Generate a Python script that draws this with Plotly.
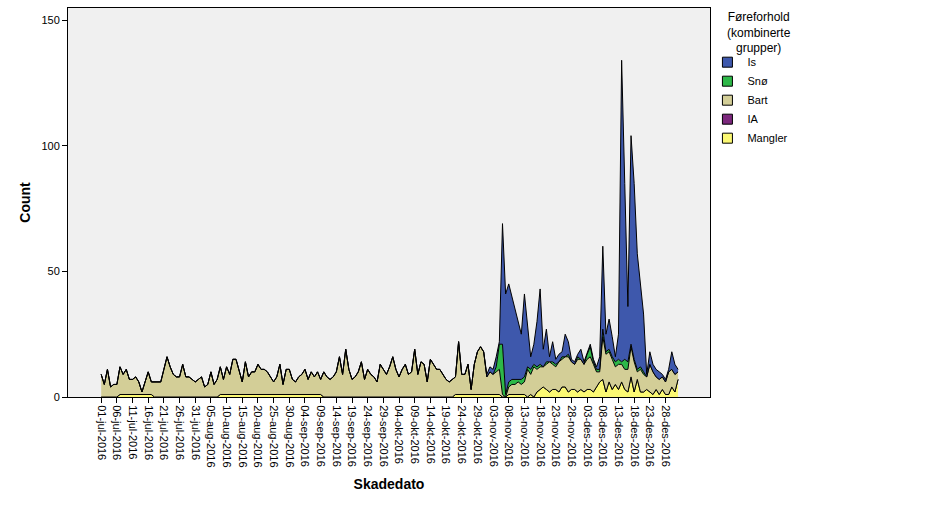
import pandas as pd
import plotly.graph_objects as go

# Daily counts 01-jul-2016 .. 01-jan-2017, per road condition (stack bottom -> top)
dates = pd.date_range("2016-07-01", "2017-01-01", freq="D")

mangler_jul = [0, 0, 0, 0, 0, 0, 1, 1, 1, 1, 1, 1, 1, 1, 1, 1, 1, 0, 0, 0, 0, 0, 0, 0, 0, 0, 0, 0, 0, 0, 0]
mangler_aug = [0, 0, 0, 0, 0, 0, 0, 1, 1, 1, 1, 1, 1, 1, 1, 1, 1, 1, 1, 1, 1, 1, 1, 1, 1, 1, 1, 1, 1, 1, 1]
mangler_sep = [1, 1, 1, 1, 1, 1, 1, 1, 1, 0, 0, 0, 0, 0, 0, 0, 0, 0, 0, 0, 0, 0, 0, 0, 0, 0, 0, 0, 0, 0]
mangler_okt = [0, 0, 0, 0, 0, 0, 0, 0, 0, 0, 0, 0, 0, 0, 0, 0, 0, 0, 0, 0, 0, 1, 1, 1, 1, 1, 1, 1, 1, 1, 1]
mangler_nov = [1, 1, 1, 1, 1, 0, 0, 1, 1, 1, 1, 1, 1, 0, 1, 0, 2, 3, 4, 3, 2, 3, 3, 2, 4, 4, 2, 3, 3, 2]
mangler_des = [3, 2, 3, 3, 2, 4, 6, 7, 2, 6, 3, 5, 3, 6, 3, 2, 8, 2, 7, 2, 2, 3, 2, 1, 3, 1, 3, 1, 1, 4, 2]
mangler_jan = [7]

bart_jul = [9, 5, 11, 4, 5, 5, 11, 8, 10, 6, 6, 7, 5, 1, 5, 9, 5, 6, 6, 6, 11, 16, 12, 9, 8, 8, 13, 8, 8, 7, 6]
bart_aug = [7, 8, 4, 5, 10, 5, 7, 11, 6, 11, 8, 14, 14, 9, 5, 13, 7, 9, 9, 12, 10, 10, 9, 7, 5, 7, 12, 4, 10, 10, 6]
bart_sep = [5, 7, 8, 10, 6, 9, 7, 9, 6, 10, 8, 7, 8, 10, 16, 9, 19, 11, 7, 8, 10, 14, 7, 11, 9, 8, 6, 13, 11, 9]
bart_okt = [12, 16, 11, 8, 11, 13, 9, 10, 19, 9, 14, 13, 6, 15, 13, 11, 11, 9, 7, 6, 7, 7, 21, 8, 8, 12, 2, 12, 17, 19, 17]
bart_nov = [7, 9, 8, 9, 10, 1, 0, 3, 4, 4, 5, 4, 5, 11, 8, 12, 9, 9, 8, 10, 12, 10, 9, 12, 11, 12, 14, 11, 10, 13]
bart_des = [12, 11, 12, 13, 11, 6, 4, 17, 15, 12, 12, 7, 10, 7, 8, 9, 12, 12, 3, 9, 7, 5, 11, 9, 5, 6, 5, 5, 9, 7, 7]
bart_jan = [3]

sno_nov = [0, 0, 0, 2, 10, 20, 1, 2, 2, 2, 1, 2, 2, 1, 2, 1, 1, 1, 0, 1, 0, 1, 1, 0, 1, 0, 1, 0, 0, 1]
sno_des = [0, 0, 2, 4, 1, 1, 1, 3, 1, 1, 1, 2, 2, 1, 4, 3, 1, 1, 1, 1, 1, 0, 0, 0, 0, 0, 0, 0, 0, 0, 0]
sno_jan = [0]

is_nov = [1, 2, 2, 4, 1, 48, 40, 39, 33, 28, 23, 18, 33, 16, 5, 8, 18, 30, 7, 13, 2, 8, 2, 3, 2, 9, 5, 1, 1, 1]
is_des = [4, 1, 1, 1, 1, 1, 5, 33, 7, 12, 8, 2, 10, 120, 70, 22, 83, 70, 46, 32, 23, 1, 5, 3, 3, 3, 1, 1, 1, 7, 4]
is_jan = [1]

summer = [0] * 123  # no ice / snow registered jul-okt
mangler = mangler_jul + mangler_aug + mangler_sep + mangler_okt + mangler_nov + mangler_des + mangler_jan
bart = bart_jul + bart_aug + bart_sep + bart_okt + bart_nov + bart_des + bart_jan
sno = summer + sno_nov + sno_des + sno_jan
is_ = summer + is_nov + is_des + is_jan
ia = [0] * len(dates)

series = [("Mangler", mangler, "#FBF873"), ("IA", ia, "#7C287D"), ("Bart", bart, "#D3CE97"),
          ("Snø", sno, "#2EB848"), ("Is", is_, "#3E58AC")]

month_no = {7: "jul", 8: "aug", 9: "sep", 10: "okt", 11: "nov", 12: "des"}
tick_dates = pd.date_range("2016-07-01", "2016-12-28", freq="5D")
tick_text = [f"{d.day:02d}-{month_no[d.month]}-{d.year}" for d in tick_dates]

fig = go.Figure()
for name, vals, col in series:
    fig.add_trace(go.Scatter(x=dates, y=vals, name=name, mode="lines", stackgroup="one",
                             line=dict(color="black", width=1), fillcolor=col, showlegend=False,
                             hoverinfo="x+y+name"))

# legend swatches (top -> bottom like SPSS)
for name, vals, col in reversed(series):
    fig.add_trace(go.Scatter(x=[None], y=[None], name=name, mode="markers",
                             marker=dict(symbol="square", size=10, color=col,
                                         line=dict(color="black", width=1))))

axis_font = dict(family="Liberation Sans, Arial, sans-serif", size=11, color="black")
fig.update_layout(
    width=948, height=505,
    margin=dict(l=68, r=238, t=8, b=108),
    paper_bgcolor="white", plot_bgcolor="#F0F0F0",
    font=axis_font,
    showlegend=True,
    legend=dict(x=0.996, y=0.898, xanchor="left", yanchor="top", traceorder="normal",
                font=dict(size=11), tracegroupgap=0, itemwidth=30, bgcolor="rgba(0,0,0,0)"),
)
# legend heading, centred lines like the SPSS legend
fig.add_annotation(text="Føreforhold<br>(kombinerte<br>grupper)", xref="paper", yref="paper",
                   x=1.077, y=1.0, xanchor="center", yanchor="top", align="center",
                   showarrow=False, font=dict(size=12))
fig.update_xaxes(range=["2016-06-20 10:00", "2017-01-11 04:30"], tickvals=tick_dates, ticktext=tick_text,
                 tickangle=90, ticks="outside", ticklen=5, tickcolor="black",
                 showline=True, linecolor="black", mirror=True, showgrid=False, zeroline=False,
                 title=dict(text="<b>Skadedato</b>", font=dict(size=14), standoff=12))
fig.update_yaxes(range=[0, 154.8], tickvals=[0, 50, 100, 150], ticks="outside", ticklen=5,
                 tickcolor="black", showline=True, linecolor="black", mirror=True,
                 showgrid=False, zeroline=False,
                 title=dict(text="<b>Count</b>", font=dict(size=14), standoff=7))

fig.write_html("out.html", config={"displayModeBar": False},
               post_script="document.body.style.margin='0px';")
